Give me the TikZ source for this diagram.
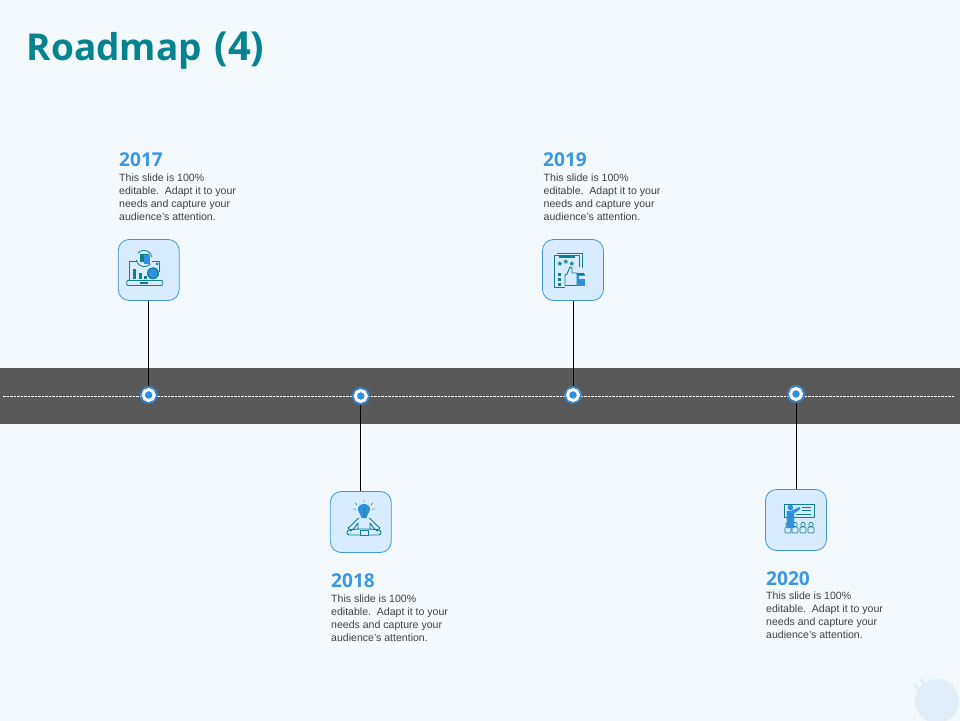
\documentclass[tikz,border=0pt]{standalone}
\usepackage{fontspec}
\setmainfont{Liberation Sans}
\newfontfamily\titlefont{Open Sans}
\newfontfamily\symfont{DejaVu Sans}
\definecolor{bgc}{HTML}{F4F9FD}
\definecolor{bandc}{HTML}{595959}
\definecolor{titlec}{HTML}{05848F}
\definecolor{yearc}{HTML}{3A97E4}
\definecolor{boxfill}{HTML}{D9ECFD}
\definecolor{boxline}{HTML}{3F97D8}
\definecolor{iconc}{HTML}{0F7F90}
\definecolor{iconb}{HTML}{2F8FE0}
\definecolor{bodyc}{HTML}{404040}
\definecolor{wmc}{HTML}{E1EEF8}
\tikzset{
  x=1pt,y=-1pt,
  iconbox/.style={draw=boxline,fill=boxfill,line width=0.8pt,rounded corners=11pt,minimum size=61pt,inner sep=0pt},
  yearlabel/.style={anchor=north west,inner sep=0pt,text=yearc,font=\titlefont\fontsize{19.1}{21}\selectfont\bfseries},
  bodylabel/.style={anchor=north west,inner sep=0pt,text=bodyc,align=left,font=\fontsize{10.55}{13.1}\selectfont},
  stem/.style={draw=black,line width=1pt},
  dotmark/.style={circle,draw=white,fill=iconb,line width=3pt,minimum size=11pt,inner sep=0pt},
  halo/.style={circle,fill=iconb,fill opacity=0.75,minimum size=18pt,inner sep=0pt},
  ic/.style={draw=iconc,line width=0.9pt,line join=round},
  starmark/.style={inner sep=0pt,text=iconc,font=\symfont\fontsize{7.5}{7.5}\selectfont},
}
\newcommand{\bodytext}{This slide is 100\%\\editable.\ \ Adapt it to your\\needs and capture your\\audience's attention.}
\begin{document}
\begin{tikzpicture}
\useasboundingbox (0,0) rectangle (960,720);
\fill[bgc] (-1,-1) rectangle (961,721);
% watermark
\fill[wmc] (937,701) circle[radius=22];
\draw[wmc,line width=3pt,line cap=round] (915,685) -- (922,693);
\draw[wmc,line width=3pt,line cap=round] (921,680) -- (928,688);
% band
\fill[bandc] (-1,368) rectangle (961,424);
\coordinate (dashL) at (3,396);
\coordinate (dashR) at (955,396);
\draw[white,line width=0.7pt,dash pattern=on 2.5pt off 1pt] (dashL) -- (dashR);
% title
\node[anchor=west,inner sep=0pt,text=titlec,font=\titlefont\fontsize{37}{40}\selectfont\bfseries] (title) at (26.5,51) {Roadmap\hspace{3pt} {\fontsize{40}{40}\selectfont (4)}};
% boxes
\node[iconbox] (box17) at (148.7,270) {};
\node[iconbox] (box19) at (573,270) {};
\node[iconbox] (box18) at (360.8,522) {};
\node[iconbox] (box20) at (796,520) {};
% dots
\node[halo] (h17) at (148.7,395) {};
\node[halo] (h18) at (360.8,396) {};
\node[halo] (h19) at (573,395) {};
\node[halo] (h20) at (796,394) {};
\node[dotmark] (d17) at (148.7,395) {};
\node[dotmark] (d18) at (360.8,396) {};
\node[dotmark] (d19) at (573,395) {};
\node[dotmark] (d20) at (796,394) {};
% connectors
\draw[stem] (box17.south) -- (h17.north);
\draw[stem] (box19.south) -- (h19.north);
\draw[stem] (h18.south) -- (box18.north);
\draw[stem] (h20.south) -- (box20.north);
% labels
\node[yearlabel] (y17) at (119,152) {2017};
\node[bodylabel] (t17) at (119,173.5) {\bodytext};
\node[yearlabel] (y19) at (543,152) {2019};
\node[bodylabel] (t19) at (543.5,173.5) {\bodytext};
\node[yearlabel] (y18) at (331,573) {2018};
\node[bodylabel] (t18) at (331,594.5) {\bodytext};
\node[yearlabel] (y20) at (766,571) {2020};
\node[bodylabel] (t20) at (766,591.5) {\bodytext};
% icon 2017: laptop with charts
\begin{scope}[shift={(box17.center)},x=1pt,y=-1pt]
  \draw[ic] (-19,11) -- (-19,-9) -- (-12,-9);
  \draw[ic] (3,-9) -- (11,-9) -- (11,2);
  \draw[ic,rounded corners=1pt,fill=boxfill] (-22,10.5) rectangle (14,15.5);
  \fill[iconc] (-9,12) rectangle (-1,14);
  \draw[ic,line width=0.8pt] (-12.3,-10) arc[start angle=170,end angle=40,radius=8];
  \draw[ic,line width=0.8pt] (3.2,-13) arc[start angle=-10,end angle=-140,radius=8];
  \fill[iconc] (-9,-16) rectangle (0,-8);
  \fill[iconb] (-5,-15) rectangle (1,-6);
  \fill[iconc] (-16,-1) rectangle (-13,9);
  \fill[iconc] (-10,3) rectangle (-7,9);
  \fill[iconc] (-5,6) rectangle (-2,9);
  \fill[iconc] (4.3,3.3) circle[radius=6];
  \fill[iconb] (4.3,3.3) circle[radius=4.8];
  \fill[iconc] (8.5,-6) circle[radius=1.5];
\end{scope}
% icon 2019: rating sheet with thumb
\begin{scope}[shift={(box19.center)},x=1pt,y=-1pt]
  \draw[ic] (-16,-17) -- (9,-17) -- (9,-2);
  \draw[ic,fill=boxfill] (-19,-15) -- (6,-15) -- (6,-3);
  \draw[ic] (-19,-15) -- (-19,17) -- (-8,17);
  \fill[iconc] (-14,-14) rectangle (2,-12);
  \node[starmark] (s1) at (-13,-6) {★};
  \node[starmark] (s2) at (-7,-8) {★};
  \node[starmark] (s3) at (-1,-6) {★};
  \fill[iconc] (-15,3) rectangle (-12,6);
  \fill[iconc] (-15,8) rectangle (-12,11);
  \fill[iconc] (-15,13) rectangle (-12,16);
  \draw[ic,fill=boxfill] (-8,15.5) -- (-8,5) -- (-6,4) -- (-3,-3) -- (-1,-2) -- (-1,3) -- (4,3) -- (4,15.5) -- cycle;
  \fill[iconb] (4,4) rectangle (12,15.5);
  \fill[boxfill] (6,6) rectangle (12,9);
  \fill[iconc] (4,2.5) rectangle (11,4.5);
\end{scope}
% icon 2018: meditating figure
\begin{scope}[shift={(box18.center)},x=1pt,y=-1pt]
  \begin{scope}[xshift=3.2pt]
  \fill[iconb] (-6,-12) .. controls (-7,-20) and (7,-20) .. (6,-12) .. controls (5,-9) and (3,-7) .. (2.5,-4) -- (-2.5,-4) .. controls (-3,-7) and (-5,-9) .. (-6,-12) -- cycle;
  \draw[iconc,line width=0.6pt] (0,-14) -- (0,-5);
  \draw[iconc,line width=0.5pt] (-9,-19) -- (-7,-17) (9,-19) -- (7,-17) (-11,-13) -- (-8,-13) (11,-13) -- (8,-13) (0,-22) -- (0,-20);
  \draw[ic] (-5,-4) .. controls (-8,-2) and (-12,3) .. (-16,6) -- (-13,9) .. controls (-10,7) and (-8,4) .. (-6,1) -- (-6,7);
  \draw[ic] (5,-4) .. controls (8,-2) and (12,3) .. (16,6) -- (13,9) .. controls (10,7) and (8,4) .. (6,1) -- (6,7);
  \draw[ic,rounded corners=2.5pt] (-17,8) -- (-6,7) -- (6,7) -- (17,8) -- (17,13) -- (-17,13) -- cycle;
  \draw[ic,fill=boxfill] (-4,8.5) rectangle (4,13);
  \end{scope}
\end{scope}
% icon 2020: presenter at board
\begin{scope}[shift={(box20.center)},x=1pt,y=-1pt]
  \draw[ic,fill=boxfill] (-12,-16) rectangle (18,-3);
  \draw[iconc,line width=0.7pt] (6,-13) -- (15,-13) (6,-10) -- (15,-10) (0,-6) -- (15,-6);
  \foreach \px in {-8,-1,7,15}{
    \draw[ic,line width=0.7pt,fill=boxfill] (\px,4.5) circle[radius=2.2];
    \draw[ic,line width=0.7pt,fill=boxfill,rounded corners=1pt] (\px-3,13) rectangle (\px+3,7);
  }
  \fill[iconb] (-5.5,-12.5) circle[radius=2.8];
  \fill[iconb] (-9.5,-9) -- (-4,-9.5) -- (3.5,-13) -- (4.5,-11) -- (-2,-6.5) -- (-2,8) -- (-9,8) -- cycle;
\end{scope}
\end{tikzpicture}
\end{document}
